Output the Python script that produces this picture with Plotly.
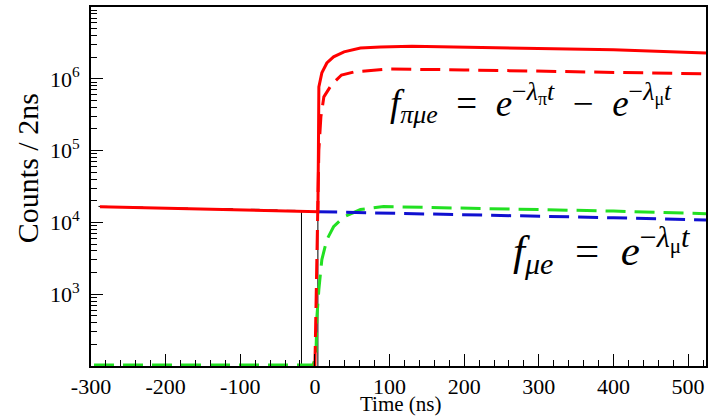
import plotly.graph_objects as go

# ---------------- data ----------------
# black data histogram (Counts / 2ns), pre-zero part, step edges in ns
black_t = [-290, -278, -266, -254, -242, -230, -218, -206, -194, -182, -170, -158,
           -146, -134, -122, -110, -98, -86, -74, -62, -50, -38, -26, -18, 4]
black_y = [16700, 16400, 16500, 16200, 16300, 16000, 15900, 16100, 15700, 15800, 15500, 15600,
           15400, 15300, 15500, 15100, 15000, 15200, 14800, 14900, 14600, 14700, 14400, 1, 14100]

# red solid: total fit
red_t = [-288, -200, -100, 3, 4, 4.7, 5.3, 9.3, 16, 25, 39, 61, 88, 130, 200, 300, 400, 524]
red_y = [16500, 15700, 14900, 14100, 14100, 100000, 770000, 1210000, 1660000, 2020000,
         2370000, 2690000, 2780000, 2830000, 2760000, 2650000, 2540000, 2290000]

# red dashed: pi-mu-e component
redd_t = [0, 1, 3, 4, 5.3, 8, 12, 22, 35.6, 53, 80, 97, 200, 300, 400, 524]
redd_y = [100, 410, 3300, 28000, 102000, 295000, 560000, 820000, 1130000, 1250000,
          1330000, 1370000, 1330000, 1270000, 1220000, 1170000]

# green dashed
green_t = [-296, -2.7, 1.3, 2.7, 5.3, 9.3, 16, 25, 39, 61, 92, 200, 300, 400, 524]
green_y = [103, 103, 135, 488, 1160, 3030, 5750, 8700, 12000, 15100, 16600, 15800,
           15100, 14400, 13200]

# blue dashed: mu-e component
blue_t = [3, 100, 200, 300, 400, 524]
blue_y = [14100, 13500, 12900, 12200, 11600, 10800]

x_ticks = [-300, -200, -100, 0, 100, 200, 300, 400, 500]
x_ticktext = ["-300", "-200", "-100", "0", "100", "200", "300", "400", "500"]
y_ticks = [1e3, 1e4, 1e5, 1e6]
y_ticktext = ["10<sup>3</sup>", "10<sup>4</sup>", "10<sup>5</sup>", "10<sup>6</sup>"]

# ---------------- figure ----------------
fig = go.Figure()
fig.add_trace(go.Scatter(x=black_t, y=black_y, mode="lines", line_shape="hv",
                         line=dict(color="black", width=1)))
fig.add_trace(go.Scatter(x=green_t, y=green_y, mode="lines",
                         line=dict(color="#22e022", width=3, dash="20px,9px")))
fig.add_trace(go.Scatter(x=blue_t, y=blue_y, mode="lines",
                         line=dict(color="#1010d0", width=3, dash="20px,9px")))
fig.add_trace(go.Scatter(x=redd_t, y=redd_y, mode="lines",
                         line=dict(color="#ff0000", width=3, dash="20px,9px")))
fig.add_trace(go.Scatter(x=red_t, y=red_y, mode="lines",
                         line=dict(color="#ff0000", width=3)))

L, R, T, B = 91, 2, 7, 50
W, H = 710, 416
pw, ph = W - L - R, H - T - B

def px(xp):
    return (xp - L) / pw

def py(yp):
    return (H - B - yp) / ph

serif = "Liberation Serif, Times New Roman, Times, serif"
minor_y = [m * 10 ** e for e in range(2, 7) for m in range(2, 10)]

fig.update_layout(
    width=W, height=H, margin=dict(l=L, r=R, t=T, b=B),
    paper_bgcolor="white", plot_bgcolor="white", showlegend=False,
    font=dict(family=serif, color="black"),
    xaxis=dict(range=[-300, 524], tickvals=x_ticks, ticktext=x_ticktext,
               ticks="inside", ticklen=12,
               tickwidth=1, tickcolor="black", showgrid=False, zeroline=False,
               showline=True, linecolor="black", linewidth=2, mirror=True,
               tickfont=dict(family=serif, size=22, color="black"),
               minor=dict(dtick=20, tick0=0, ticks="inside", ticklen=6,
                          tickcolor="black", showgrid=False)),
    yaxis=dict(type="log", range=[2, 7], tickvals=y_ticks, ticktext=y_ticktext,
               ticks="inside", ticklen=12, tickwidth=1, tickcolor="black",
               showgrid=False, zeroline=False, showline=True, linecolor="black",
               linewidth=2, mirror=True, ticklabelstandoff=5,
               tickfont=dict(family=serif, size=22, color="black"),
               minor=dict(tickvals=minor_y, ticks="inside", ticklen=6,
                          tickcolor="black", showgrid=False)),
)

fig.add_annotation(text="Counts / 2ns", xref="paper", yref="paper",
                   x=px(27), y=py(168), xanchor="center", yanchor="middle",
                   textangle=-90, showarrow=False,
                   font=dict(family=serif, size=30, color="black"))
fig.add_annotation(text="Time (ns)", xref="paper", yref="paper",
                   x=px(402), y=py(404), xanchor="center", yanchor="middle",
                   showarrow=False, font=dict(family=serif, size=21, color="black"))

sp2 = "&nbsp;&nbsp;"
f1 = ("<i>f</i><sub><i>πμe</i></sub>" + sp2 + "=" + sp2
      + "<i>e</i><sup>−<i>λ</i><sub>π</sub><i>t</i></sup>"
      + sp2 + "−" + sp2 + "<i>e</i><sup>−<i>λ</i><sub>μ</sub><i>t</i></sup>")
f2 = ("<i>f</i><sub><i>μe</i></sub>" + sp2 + "=" + sp2
      + "<i>e</i><sup>−<i>λ</i><sub>μ</sub><i>t</i></sup>")
fig.add_annotation(text=f1, xref="paper", yref="paper", x=px(532), y=py(103),
                   xanchor="center", yanchor="middle",
                   showarrow=False, font=dict(family=serif, size=37, color="black"))
fig.add_annotation(text=f2, xref="paper", yref="paper", x=px(603), y=py(250),
                   xanchor="center", yanchor="middle",
                   showarrow=False, font=dict(family=serif, size=43, color="black"))

fig.write_html("out.html")
